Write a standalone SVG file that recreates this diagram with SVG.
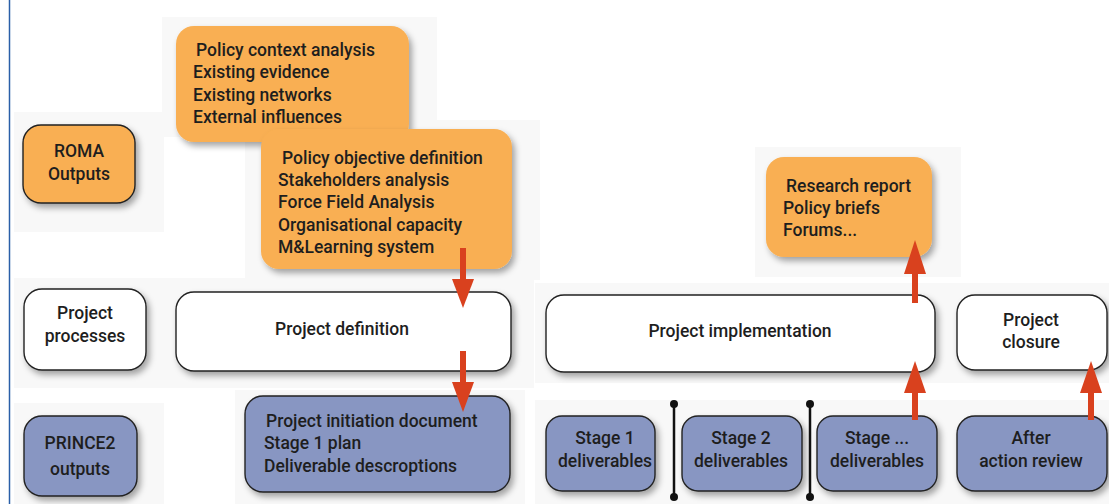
<svg xmlns="http://www.w3.org/2000/svg" width="1109" height="504" viewBox="0 0 1109 504">
<defs>
<filter id="sh" x="-20%" y="-20%" width="150%" height="160%">
<feDropShadow dx="3" dy="4" stdDeviation="3" flood-color="#000" flood-opacity="0.35"/>
</filter>
<style>
.or{fill:#F9AF52;filter:url(#sh)}
.wh{fill:#fff;stroke:#222;stroke-width:1.4;filter:url(#sh)}
.bl{fill:#8896C2;stroke:#222;stroke-width:1.4;filter:url(#sh)}
.ro{fill:#F9AF52;stroke:#222;stroke-width:1.4;filter:url(#sh)}
text{font-family:Roboto,"Liberation Sans",Arial,sans-serif;font-weight:500;font-size:17.5px;fill:#1e1e1e}
.c{text-anchor:middle}
.bg{fill:#f8f8f8}
.ar{stroke:#D9411E;stroke-width:6;fill:none}
.ah{fill:#D9411E}
.sep{stroke:#111;stroke-width:2.5}
</style>
</defs>
<rect width="1109" height="504" fill="#fff"/>
<line x1="9.5" y1="0" x2="9.5" y2="504" stroke="#2A5FA8" stroke-width="1.5"/>
<g id="bgpanels">
<rect class="bg" x="162" y="17" width="275" height="120"/>
<rect class="bg" x="14" y="112" width="150" height="120"/>
<rect class="bg" x="245" y="120" width="295" height="160"/>
<rect class="bg" x="14" y="278" width="520" height="110"/>
<rect class="bg" x="535" y="283" width="574" height="100"/>
<rect class="bg" x="755" y="147" width="206" height="130"/>
<rect class="bg" x="14" y="403" width="150" height="101"/>
<rect class="bg" x="535" y="400" width="574" height="104"/>
<rect class="bg" x="235" y="390" width="290" height="114"/>
</g>
<g id="policy-context">
<rect class="or" x="176" y="26" width="233" height="116" rx="18"/>
<text x="196" y="56">Policy context analysis</text>
<text x="193" y="78">Existing evidence</text>
<text x="193" y="101">Existing networks</text>
<text x="193" y="123">External influences</text>
</g>
<g id="roma-outputs">
<rect class="ro" x="23" y="125" width="112" height="78" rx="18"/>
<text class="c" x="79" y="157">ROMA</text>
<text class="c" x="79" y="180">Outputs</text>
</g>
<g id="policy-objective">
<rect class="or" x="261" y="129" width="251" height="140" rx="18"/>
<text x="282" y="164">Policy objective definition</text>
<text x="278" y="186">Stakeholders analysis</text>
<text x="278" y="208">Force Field Analysis</text>
<text x="278" y="231">Organisational capacity</text>
<text x="278" y="253">M&amp;Learning system</text>
</g>
<g id="research-report">
<rect class="or" x="766" y="157" width="166" height="100" rx="18"/>
<text x="786" y="192">Research report</text>
<text x="783" y="214">Policy briefs</text>
<text x="783" y="236">Forums...</text>
</g>
<g id="project-processes">
<rect class="wh" x="24" y="289" width="122" height="81" rx="18"/>
<text class="c" x="85" y="319">Project</text>
<text class="c" x="85" y="342">processes</text>
</g>
<g id="project-definition">
<rect class="wh" x="176" y="292" width="335" height="79" rx="18"/>
<text class="c" x="342" y="335">Project definition</text>
</g>
<g id="project-implementation">
<rect class="wh" x="546" y="295" width="389" height="77" rx="18"/>
<text class="c" x="740" y="337">Project implementation</text>
</g>
<g id="project-closure">
<rect class="wh" x="957" y="295" width="150" height="75" rx="18"/>
<text class="c" x="1031" y="326">Project</text>
<text class="c" x="1031" y="348">closure</text>
</g>
<g id="prince2-outputs">
<rect class="bl" x="24" y="416" width="113" height="80" rx="18"/>
<text class="c" x="80" y="449">PRINCE2</text>
<text class="c" x="80" y="475">outputs</text>
</g>
<g id="pid">
<rect class="bl" x="245" y="396" width="265" height="96" rx="18"/>
<text x="266" y="427">Project initiation document</text>
<text x="264" y="449">Stage 1 plan</text>
<text x="264" y="472">Deliverable descroptions</text>
</g>
<g id="stage1">
<rect class="bl" x="546" y="416" width="109" height="75" rx="16"/>
<text class="c" x="605" y="444">Stage 1</text>
<text class="c" x="605" y="467">deliverables</text>
</g>
<g id="stage2">
<rect class="bl" x="682" y="416" width="120" height="75" rx="16"/>
<text class="c" x="741" y="444">Stage 2</text>
<text class="c" x="741" y="467">deliverables</text>
</g>
<g id="stage-n">
<rect class="bl" x="817" y="416" width="120" height="75" rx="16"/>
<text class="c" x="877" y="444">Stage ...</text>
<text class="c" x="877" y="467">deliverables</text>
</g>
<g id="after-action">
<rect class="bl" x="957" y="416" width="150" height="75" rx="18"/>
<text class="c" x="1031" y="444">After</text>
<text class="c" x="1031" y="467">action review</text>
</g>
<g id="connectors">
<line class="sep" x1="674" y1="404" x2="674" y2="497"/>
<circle cx="674" cy="404" r="4" fill="#111"/>
<circle cx="674" cy="497" r="4" fill="#111"/>
<line class="sep" x1="810" y1="404" x2="810" y2="497"/>
<circle cx="810" cy="404" r="4" fill="#111"/>
<circle cx="810" cy="497" r="4" fill="#111"/>
<line class="ar" x1="463" y1="248" x2="463" y2="282"/>
<polygon class="ah" points="452,279 474,279 463,308"/>
<line class="ar" x1="463" y1="351" x2="463" y2="385"/>
<polygon class="ah" points="452,382 474,382 463,412"/>
<line class="ar" x1="915" y1="303" x2="915" y2="270"/>
<polygon class="ah" points="904,274 926,274 915,240"/>
<line class="ar" x1="915" y1="420" x2="915" y2="390"/>
<polygon class="ah" points="904,393 926,393 915,361"/>
<line class="ar" x1="1091" y1="420" x2="1091" y2="390"/>
<polygon class="ah" points="1080,393 1102,393 1091,361"/>
</g>
</svg>
